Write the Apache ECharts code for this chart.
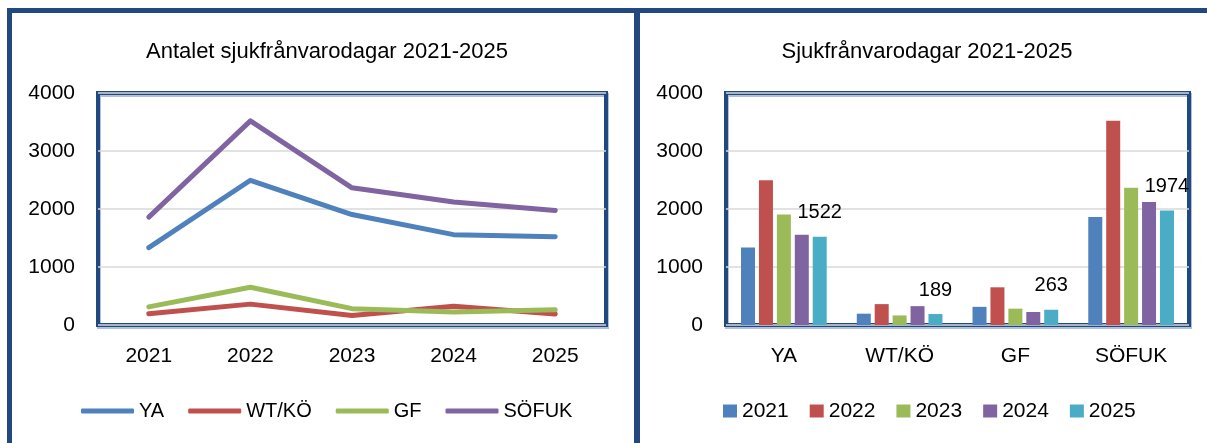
<!DOCTYPE html>
<html><head><meta charset="utf-8">
<script src="https://cdn.jsdelivr.net/npm/echarts@6/dist/echarts.min.js"></script>
<style>html,body{margin:0;padding:0;background:#fff}#c{width:1207px;height:443px}</style>
</head><body><div id="c"></div>
<script>
// ---- data ----
const years = ['2021', '2022', '2023', '2024', '2025'];
const units = ['YA', 'WT/KÖ', 'GF', 'SÖFUK'];
const ya    = [1335, 2495, 1905, 1558, 1522];
const wtko  = [195, 360, 165, 325, 189];
const gf    = [313, 650, 282, 224, 263];
const sofuk = [1860, 3520, 2365, 2120, 1974];
const yMin = 0, yMax = 4000, yStep = 1000;
const lineTitle = 'Antalet sjukfrånvarodagar 2021-2025';
const barTitle = 'Sjukfrånvarodagar 2021-2025';
const labelledYear = '2025';

// ---- style ----
const FONT = 'Liberation Sans, Arial, sans-serif';
const NAVY = '#22497f';
const lineColors = ['#4F81BD', '#C0504D', '#9BBB59', '#8064A2'];
const barColors = ['#4F81BD', '#C0504D', '#9BBB59', '#8064A2', '#4BACC6'];
const byUnit = [ya, wtko, gf, sofuk];

const gridCommon = {
  show: true, top: 93, height: 232, borderColor: NAVY, borderWidth: 4,
  backgroundColor: '#fff', shadowColor: 'rgba(120,150,195,0.6)', shadowOffsetX: 1, shadowOffsetY: 2, shadowBlur: 0
};
const yAxisCommon = {
  type: 'value', min: yMin, max: yMax, interval: yStep,
  axisLine: {show: false}, axisTick: {show: false},
  axisLabel: {margin: 23, fontSize: 21, color: '#000', fontFamily: FONT, formatter: v => String(v), padding: [4, 0, 0, 0]},
  splitLine: {lineStyle: {color: '#d9d9d9', width: 1.5}}
};
const xAxisCommon = {
  type: 'category', boundaryGap: true,
  axisLine: {show: false}, axisTick: {show: false},
  axisLabel: {margin: 21, fontSize: 21, color: '#000', fontFamily: FONT}
};

const series = [];
units.forEach((u, i) => {
  series.push({
    name: u, type: 'line', xAxisIndex: 0, yAxisIndex: 0, data: byUnit[i],
    symbol: 'none', color: lineColors[i],
    lineStyle: {width: 5, cap: 'round', join: 'round'}
  });
});
years.forEach((y, j) => {
  series.push({
    name: y, type: 'bar', xAxisIndex: 1, yAxisIndex: 1,
    data: byUnit.map(arr => arr[j]), color: barColors[j],
    barWidth: 14, barGap: '28%',
    label: y === labelledYear ? {show: true, position: 'top', distance: 14, fontSize: 20, color: '#000', fontFamily: FONT} : {show: false}
  });
});

const chart = echarts.init(document.getElementById('c'));
chart.setOption({
  animation: false,
  backgroundColor: '#fff',
  textStyle: {fontFamily: FONT},
  title: [
    {text: lineTitle, left: 327, top: 41, textAlign: 'center', padding: 0,
     textStyle: {fontSize: 22, fontWeight: 'normal', color: '#000', fontFamily: FONT}},
    {text: barTitle, left: 927, top: 41, textAlign: 'center', padding: 0,
     textStyle: {fontSize: 22, fontWeight: 'normal', color: '#000', fontFamily: FONT}}
  ],
  legend: [
    {data: units, left: 81, top: 399, padding: 0, icon: 'roundRect', itemWidth: 53, itemHeight: 5, itemGap: 24,
     textStyle: {fontSize: 20, color: '#000', fontFamily: FONT, lineHeight: 24}},
    {data: years, left: 723, top: 399, padding: 0, icon: 'rect', itemWidth: 14, itemHeight: 13, itemGap: 21,
     textStyle: {fontSize: 21, color: '#000', fontFamily: FONT, lineHeight: 24}}
  ],
  grid: [
    Object.assign({left: 98, width: 508}, gridCommon),
    Object.assign({left: 726, width: 463}, gridCommon)
  ],
  xAxis: [
    Object.assign({gridIndex: 0, data: years}, xAxisCommon),
    Object.assign({gridIndex: 1, data: units}, xAxisCommon)
  ],
  yAxis: [
    Object.assign({gridIndex: 0}, yAxisCommon),
    Object.assign({gridIndex: 1}, yAxisCommon)
  ],
  graphic: [
    {type: 'rect', silent: true, shape: {x: 7, y: 8, width: 1200, height: 5}, style: {fill: NAVY}},
    {type: 'rect', silent: true, shape: {x: 7, y: 8, width: 5, height: 435}, style: {fill: NAVY}},
    {type: 'rect', silent: true, shape: {x: 634, y: 8, width: 6, height: 435}, style: {fill: NAVY}}
  ],
  series: series
});
</script></body></html>
